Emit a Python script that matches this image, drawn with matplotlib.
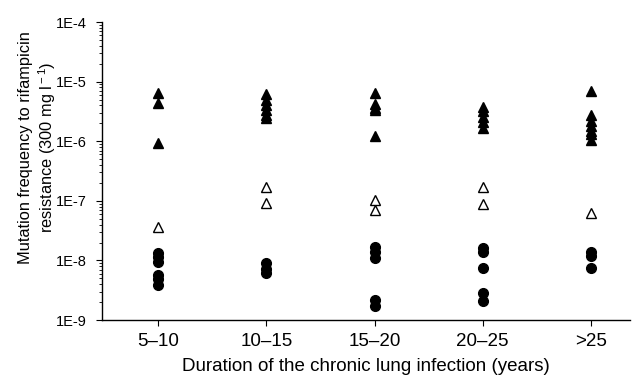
import math
import matplotlib
matplotlib.use("Agg")
import matplotlib.pyplot as plt
import matplotlib.ticker as mticker

plt.rcParams['font.family'] = ['Liberation Sans', 'DejaVu Sans']
plt.rcParams['mathtext.fontset'] = 'custom'
plt.rcParams['mathtext.rm'] = 'Liberation Sans'
plt.rcParams['mathtext.it'] = 'Liberation Sans:italic'

categories = ["5\u201310", "10\u201315", "15\u201320", "20\u201325", ">25"]

# filled triangles (high mutation frequency)
high = [
    [6.4e-6, 4.4e-6, 9.3e-7],
    [6.2e-6, 4.9e-6, 4.0e-6, 3.3e-6, 2.8e-6, 2.45e-6],
    [6.4e-6, 4.2e-6, 3.6e-6, 3.3e-6, 1.25e-6],
    [3.75e-6, 3.2e-6, 2.6e-6, 2.1e-6, 1.66e-6],
    [6.95e-6, 2.75e-6, 2.2e-6, 1.8e-6, 1.5e-6, 1.3e-6, 1.05e-6],
]
# open triangles (intermediate)
mid = [
    [3.6e-8],
    [1.7e-7, 9.2e-8],
    [1.05e-7, 7.0e-8],
    [1.7e-7, 8.7e-8],
    [6.2e-8],
]
# filled circles (low)
low = [
    [1.35e-8, 1.15e-8, 9.5e-9, 5.6e-9, 4.8e-9, 3.9e-9],
    [9.0e-9, 7.3e-9, 6.2e-9],
    [1.65e-8, 1.4e-8, 1.12e-8, 2.15e-9, 1.7e-9],
    [1.6e-8, 1.4e-8, 7.5e-9, 2.8e-9, 2.1e-9],
    [1.4e-8, 1.2e-8, 7.4e-9],
]

fig = plt.figure(figsize=(6.38, 3.81), dpi=100)
ax = fig.add_axes([0.160, 0.160, 0.827, 0.782])

for i in range(len(categories)):
    ax.plot([i] * len(high[i]), high[i], '^', color='black', ms=7.5, mec='black')
    ax.plot([i] * len(mid[i]), mid[i], '^', mfc='white', mec='black', ms=7.5, mew=1.0)
    ax.plot([i] * len(low[i]), low[i], 'o', color='black', ms=7)

ax.set_yscale('log')
ax.set_ylim(1e-9, 1e-4)
ax.set_xlim(-0.52, 4.36)
ax.set_xticks(range(len(categories)))
ax.set_xticklabels(categories)

ax.yaxis.set_major_locator(mticker.FixedLocator([1e-9, 1e-8, 1e-7, 1e-6, 1e-5, 1e-4]))
ax.yaxis.set_major_formatter(mticker.FuncFormatter(lambda v, p: "1E%d" % round(math.log10(v))))
ax.yaxis.set_minor_locator(mticker.LogLocator(base=10, subs=range(2, 10)))
ax.yaxis.set_minor_formatter(mticker.NullFormatter())

for s in ['top', 'right']:
    ax.spines[s].set_visible(False)
ax.spines['left'].set_linewidth(1.0)
ax.spines['bottom'].set_linewidth(1.0)
ax.tick_params(axis='both', which='major', length=4, width=0.8, direction='out')
ax.tick_params(axis='y', which='major', labelsize=10.5, pad=7)
ax.tick_params(axis='x', which='major', labelsize=13.5, pad=5)
ax.tick_params(axis='y', which='minor', length=2, width=0.6, direction='out')

ax.set_xlabel("Duration of the chronic lung infection (years)", fontsize=13.5, labelpad=6)
ax.set_ylabel("Mutation frequency to rifampicin\nresistance (300 mg l$^{\\rm -1}$)", fontsize=11.8)
ax.yaxis.set_label_coords(-0.083, 0.58)

fig.savefig("out.png", dpi=100)
